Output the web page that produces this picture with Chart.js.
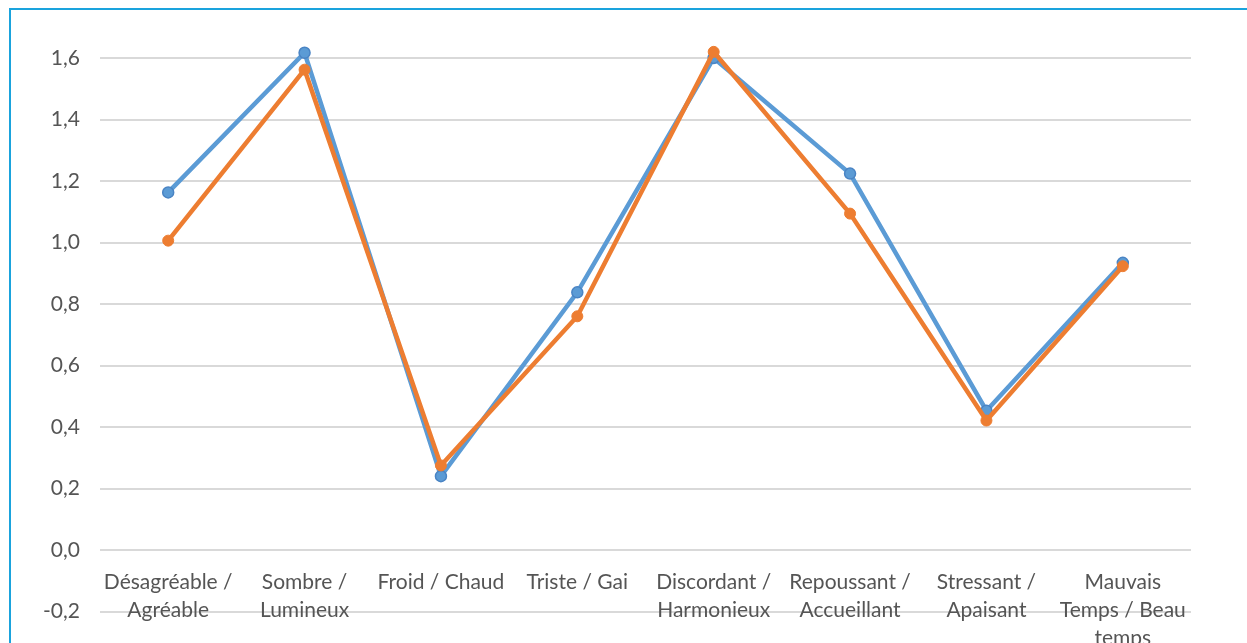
<!DOCTYPE html>
<html lang="fr">
<head>
<meta charset="utf-8">
<title>Graphique</title>
<script src="https://cdn.jsdelivr.net/npm/chart.js@4/dist/chart.umd.min.js"></script>
<style>
    body { margin: 0; background: #fff; overflow: hidden; }
    #frame {
        position: absolute; left: 9px; top: 8px;
        width: 2000px; height: 2000px;
        border-left: 2px solid #1aa3dd; border-top: 2px solid #1aa3dd;
        pointer-events: none;
    }
    #chart1 { position: absolute; left: 0; top: 0; }
</style>
</head>
<body>
<div id="frame"></div>
<canvas id="chart1" width="1247" height="643"></canvas>
<script>
const categories = [
    ['Désagréable /', 'Agréable'],
    ['Sombre /', 'Lumineux'],
    'Froid / Chaud',
    'Triste / Gai',
    ['Discordant /', 'Harmonieux'],
    ['Repoussant /', 'Accueillant'],
    ['Stressant /', 'Apaisant'],
    ['Mauvais', 'Temps / Beau', 'temps']
];
const serie1 = [1.163, 1.617, 0.240, 0.838, 1.600, 1.224, 0.453, 0.934];
const serie2 = [1.006, 1.562, 0.275, 0.760, 1.620, 1.094, 0.421, 0.923];
const yTicks = [-0.2, 0, 0.2, 0.4, 0.6, 0.8, 1.0, 1.2, 1.4, 1.6];

document.addEventListener("DOMContentLoaded", function () {
    const textColor = '#555555';
    const gridColor = '#d9d9d9';

    new Chart(document.getElementById("chart1"), {
        type: 'line',
        data: {
            labels: categories,
            datasets: [
                {
                    label: 'Série 1',
                    data: serie1,
                    borderColor: '#5b9bd5',
                    backgroundColor: '#5b9bd5',
                    pointBorderColor: '#4a84c4',
                    pointBorderWidth: 1.5,
                    pointRadius: 5.5,
                    borderWidth: 4.5,
                    tension: 0,
                    order: 1
                },
                {
                    label: 'Série 2',
                    data: serie2,
                    borderColor: '#ed7d31',
                    backgroundColor: '#ed7d31',
                    pointBorderColor: '#ed7d31',
                    pointBorderWidth: 1,
                    pointRadius: 5.5,
                    borderWidth: 4.5,
                    tension: 0,
                    order: 0
                }
            ]
        },
        options: {
            responsive: false,
            animation: false,
            layout: { padding: { left: 0, right: 56, top: 27.25, bottom: 31.5 } },
            plugins: {
                legend: { display: false },
                tooltip: { enabled: false }
            },
            scales: {
                x: {
                    position: { y: 0 },
                    offset: true,
                    grid: { display: false },
                    border: { display: false },
                    ticks: {
                        color: textColor,
                        padding: 10,
                        maxRotation: 0,
                        autoSkip: false,
                        font: { family: 'Lato', size: 21, lineHeight: 1.34 }
                    },
                    afterFit: function (scale) { scale.height = 0; }
                },
                y: {
                    min: -0.2,
                    max: 1.7,
                    afterBuildTicks: function (scale) {
                        scale.ticks = yTicks.map(v => ({ value: v }));
                    },
                    afterFit: function (scale) {
                        scale.width = 100;
                        scale.paddingTop = 0;
                        scale.paddingBottom = 0;
                    },
                    grid: { color: gridColor, lineWidth: 2, drawTicks: false },
                    border: { display: false },
                    ticks: {
                        color: textColor,
                        padding: 20,
                        font: { family: 'Lato', size: 21 },
                        callback: v => v.toFixed(1).replace('.', ',')
                    }
                }
            }
        }
    });
});
</script>
</body>
</html>
